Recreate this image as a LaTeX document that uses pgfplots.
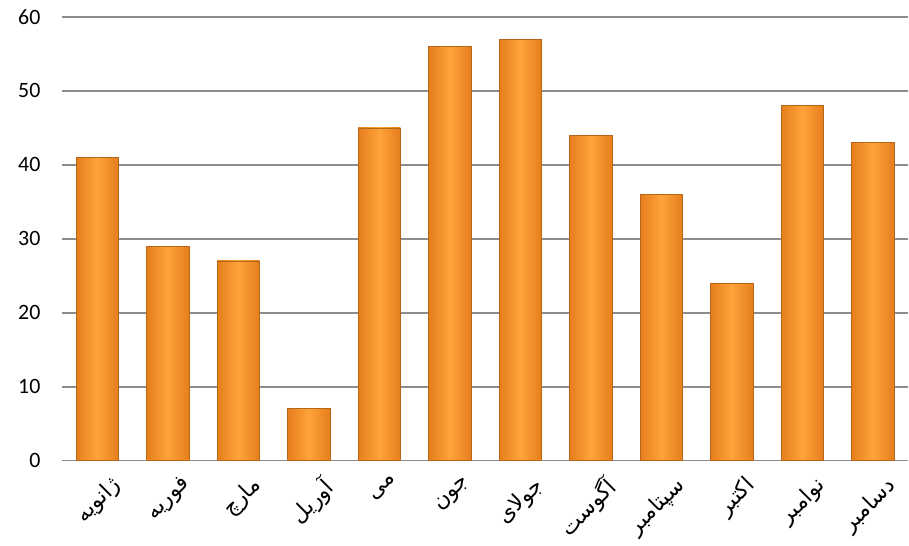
\documentclass[border=0pt]{standalone}
\usepackage{pgfplots}
\pgfplotsset{compat=1.18}
\usepackage{fontspec}
\setmainfont{Carlito}
\newfontfamily\arabicfont[Script=Arabic]{DejaVu Sans}
\newcommand{\ar}[1]{{\arabicfont #1}}
\definecolor{gridgray}{HTML}{8C8C8C}
\definecolor{baredge}{HTML}{E57E1C}
\definecolor{barmid}{HTML}{FFA33C}
\definecolor{barline}{HTML}{B8661C}

\begin{document}
\begin{tikzpicture}
\begin{axis}[
    scale only axis,
    width=847bp, height=444bp,
    xmin=-0.5, xmax=11.5,
    ymin=0, ymax=60,
    ytick={0,10,...,60},
    xtick={0,...,11},
    xticklabels={\ar{ژانویه},\ar{فوریه},\ar{مارچ},\ar{آوریل},\ar{مى},\ar{جون},\ar{جولای},\ar{آگوست},\ar{سپتامبر},\ar{اکتبر},\ar{نوامبر},\ar{دسامبر}},
    xticklabel style={rotate=45, anchor=north east, font=\fontsize{22}{24}\selectfont, xshift=2bp, yshift=-15bp},
    yticklabel style={font=\fontsize{22}{24}\selectfont, xshift=-18bp},
    /pgf/number format/assume math mode=true,
    major tick length=0pt,
    axis line style={draw=none},
    ymajorgrids,
    grid style={gridgray, line width=1.8bp},
    clip=false,
    ybar, bar width=0.6,
    mybar/.style={draw=barline, line width=0.7bp, left color=baredge, right color=baredge, middle color=barmid, bar shift=0pt},
]
\addplot[mybar] coordinates {(0,41)};
\addplot[mybar] coordinates {(1,29)};
\addplot[mybar] coordinates {(2,27)};
\addplot[mybar] coordinates {(3,7)};
\addplot[mybar] coordinates {(4,45)};
\addplot[mybar] coordinates {(5,56)};
\addplot[mybar] coordinates {(6,57)};
\addplot[mybar] coordinates {(7,44)};
\addplot[mybar] coordinates {(8,36)};
\addplot[mybar] coordinates {(9,24)};
\addplot[mybar] coordinates {(10,48)};
\addplot[mybar] coordinates {(11,43)};
\path ([xshift=-62bp,yshift=-79bp]rel axis cs:0,0) rectangle ([yshift=17bp]rel axis cs:1,1);
\end{axis}
\end{tikzpicture}
\end{document}
